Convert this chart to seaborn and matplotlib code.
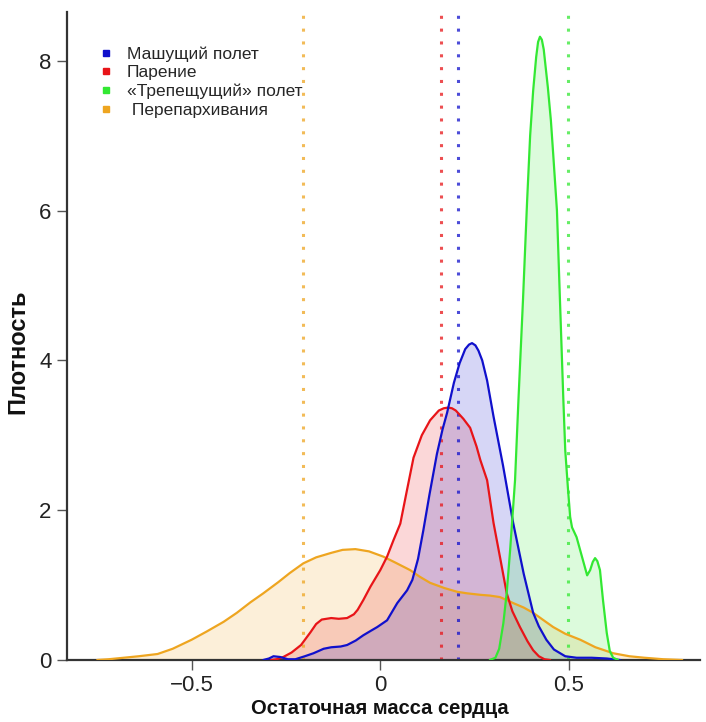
import numpy as np
import pandas as pd
import seaborn as sns
import matplotlib
matplotlib.use("Agg")
import matplotlib.pyplot as plt
from matplotlib.lines import Line2D

# ---- data ----
labels = ["Машущий полет", "Парение", "«Трепещущий» полет", " Перепархивания"]
colors = ["#1010CC", "#E81418", "#33E833", "#EEA520"]

flap_x = [-0.31, -0.295, -0.283, -0.265, -0.245, -0.225, -0.2, -0.177, -0.15, -0.13, -0.105, -0.088,
          -0.065, -0.045, -0.025, -0.008, 0.018, 0.045, 0.071, 0.085, 0.1, 0.114, 0.13, 0.15, 0.165,
          0.177, 0.195, 0.21, 0.225, 0.235, 0.243, 0.252, 0.26, 0.27, 0.283, 0.3, 0.325, 0.352, 0.38,
          0.405, 0.42, 0.44, 0.46, 0.49, 0.52, 0.56, 0.6, 0.635]
flap_y = [0.0, 0.02, 0.05, 0.04, 0.01, 0.01, 0.05, 0.09, 0.15, 0.17, 0.18, 0.2,
          0.26, 0.33, 0.39, 0.44, 0.53, 0.76, 0.93, 1.07, 1.35, 1.73, 2.2, 2.75, 3.08,
          3.3, 3.7, 3.96, 4.15, 4.21, 4.23, 4.2, 4.13, 4.0, 3.73, 3.25, 2.6, 1.83, 1.15,
          0.63, 0.45, 0.27, 0.14, 0.05, 0.03, 0.03, 0.02, 0.0]

soar_x = [-0.29, -0.275, -0.257, -0.235, -0.21, -0.185, -0.17, -0.155, -0.13, -0.11, -0.088, -0.07,
          -0.06, -0.045, -0.026, 0.0, 0.018, 0.035, 0.053, 0.07, 0.088, 0.11, 0.132, 0.155, 0.168,
          0.18, 0.19, 0.2, 0.22, 0.238, 0.255, 0.265, 0.283, 0.3, 0.318, 0.335, 0.35, 0.37, 0.39,
          0.405, 0.42, 0.435, 0.45]
soar_y = [0.0, 0.01, 0.04, 0.1, 0.2, 0.37, 0.48, 0.54, 0.56, 0.55, 0.56, 0.61,
          0.67, 0.8, 0.98, 1.2, 1.38, 1.6, 1.82, 2.25, 2.7, 3.0, 3.2, 3.33, 3.36,
          3.37, 3.36, 3.33, 3.22, 3.1, 2.85, 2.67, 2.4, 1.83, 1.35, 0.89, 0.65, 0.44, 0.25,
          0.13, 0.05, 0.01, 0.0]

hover_x = [0.29, 0.305, 0.315, 0.326, 0.335, 0.344, 0.357, 0.366, 0.378, 0.389, 0.397, 0.405,
           0.413, 0.418, 0.423, 0.428, 0.433, 0.444, 0.452, 0.458, 0.468, 0.476, 0.485, 0.49,
           0.497, 0.503, 0.508, 0.52, 0.537, 0.548, 0.556, 0.563, 0.569, 0.575, 0.582, 0.59, 0.6,
           0.608, 0.617, 0.63]
hover_y = [0.0, 0.03, 0.15, 0.49, 0.9, 1.47, 2.4, 3.47, 4.8, 6.13, 7.0, 7.6,
           8.05, 8.25, 8.32, 8.28, 8.15, 7.64, 7.2, 6.76, 6.0, 4.8, 3.47, 2.8,
           2.3, 1.91, 1.77, 1.64, 1.33, 1.13, 1.2, 1.31, 1.36, 1.32, 1.2, 0.8, 0.36,
           0.12, 0.03, 0.0]

flit_x = [-0.75, -0.72, -0.68, -0.64, -0.59, -0.55, -0.5, -0.46, -0.415, -0.38, -0.344, -0.31,
          -0.27, -0.24, -0.204, -0.17, -0.13, -0.1, -0.066, -0.03, 0.008, 0.04, 0.079, 0.105,
          0.132, 0.17, 0.204, 0.23, 0.265, 0.29, 0.317, 0.335, 0.352, 0.38, 0.405, 0.43, 0.458,
          0.49, 0.53, 0.57, 0.617, 0.66, 0.7, 0.75, 0.8]
flit_y = [0.0, 0.01, 0.03, 0.05, 0.08, 0.15, 0.27, 0.38, 0.51, 0.63, 0.77, 0.89,
          1.04, 1.16, 1.29, 1.37, 1.43, 1.47, 1.48, 1.45, 1.38, 1.3, 1.2, 1.11,
          1.03, 0.96, 0.91, 0.89, 0.87, 0.86, 0.84, 0.8, 0.76, 0.7, 0.63, 0.54, 0.44,
          0.35, 0.27, 0.17, 0.09, 0.05, 0.03, 0.01, 0.0]

means = [0.206, 0.161, 0.497, -0.204]

x_ticks = [-0.5, 0, 0.5]
x_tick_labels = ["\u22120.5", "0", "0.5"]
y_ticks = [0, 2, 4, 6, 8]

# ---- figure ----
sns.set_theme(style="ticks")
plt.rcParams["font.family"] = ["Liberation Sans", "DejaVu Sans"]

fig = plt.figure(figsize=(7.06, 7.22), dpi=100)
ax = fig.add_axes([67 / 706, 1 - 660 / 722, (700 - 67) / 706, (660 - 12) / 722])

curves = [(flap_x, flap_y), (soar_x, soar_y), (hover_x, hover_y), (flit_x, flit_y)]
order = [3, 1, 0, 2]
for i in order:
    xs, ys = curves[i]
    df = pd.DataFrame({"x": xs, "y": ys})
    ax.fill_between(df["x"], df["y"], 0, color=colors[i], alpha=0.17, linewidth=0, zorder=1)
    sns.lineplot(data=df, x="x", y="y", ax=ax, color=colors[i], linewidth=1.6, sort=False,
                 estimator=None, zorder=3)

for i in range(4):
    ax.axvline(means[i], color=colors[i], linestyle=(0, (1, 3.2)), linewidth=2.2, alpha=0.75, zorder=2)

ax.set_xlim(-0.83, 0.847)
ax.set_ylim(0, 8.65)
ax.set_xticks(x_ticks)
ax.set_xticklabels(x_tick_labels)
ax.set_yticks(y_ticks)

sns.despine(ax=ax)
for s in ["left", "bottom"]:
    ax.spines[s].set_color("#333333")
    ax.spines[s].set_linewidth(1.6)
ax.tick_params(axis="both", length=7, width=1, color="#555555", labelsize=16, labelcolor="#222222", pad=4)

ax.set_xlabel("Остаточная масса сердца", fontsize=14.5, fontweight="bold", color="#111111", labelpad=5)
ax.set_ylabel("Плотность", fontsize=17, fontweight="bold", color="#111111", labelpad=5)
ax.yaxis.set_label_coords(-0.06, 0.475)
ax.xaxis.set_label_coords(0.494, -0.06)

handles = [Line2D([0], [0], marker="s", linestyle="none", markersize=5, color=c) for c in colors]
ax.legend(handles, labels, loc="upper left", bbox_to_anchor=(0.04, 0.958), frameon=False,
          fontsize=12.5, handlelength=0.8, handletextpad=0.8, labelspacing=0.2, borderaxespad=0)

fig.savefig("out.png", dpi=100)
